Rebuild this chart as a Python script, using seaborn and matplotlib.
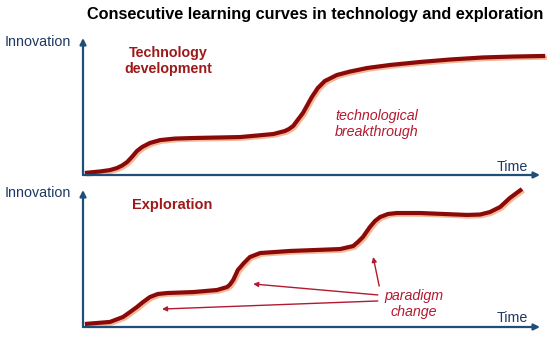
import matplotlib
matplotlib.use("Agg")
import matplotlib.pyplot as plt
import matplotlib.patheffects as pe
import seaborn as sns

# curve values (time 0-100, innovation 0-100)
time_tech = [0.4, 3.7, 5.8, 7.3, 8.4, 9.5, 10.5, 11.6, 12.7, 14.4, 16.6, 19.8, 23.7, 33.8,
             40.9, 43.4, 44.3, 45.2, 47.3, 49.2, 50.5, 52.0, 54.6, 57.4, 61.1, 66.0, 72.5,
             78.9, 86.0, 92.9, 99.4]
innov_tech = [1.5, 2.6, 3.6, 5.1, 6.9, 9.5, 13.1, 17.5, 20.4, 23.4, 25.5, 26.6, 27.0, 27.7,
              29.9, 32.1, 33.6, 35.8, 45.3, 56.9, 63.5, 68.6, 73.0, 75.5, 78.1, 80.3, 82.5,
              84.3, 85.8, 86.5, 86.9]

time_expl = [0.4, 5.8, 8.6, 10.1, 11.6, 12.9, 14.4, 16.1, 18.1, 23.7, 28.8, 31.0, 31.6,
             32.3, 32.7, 33.3, 34.6, 35.9, 38.1, 44.5, 55.3, 58.1, 59.1, 60.2, 61.7, 62.8,
             63.9, 65.6, 67.5, 72.5, 82.6, 85.4, 87.5, 89.7, 91.8, 94.4]
innov_expl = [2.2, 3.7, 7.3, 10.9, 14.6, 18.2, 21.9, 24.1, 24.8, 25.5, 27.0, 29.2, 31.0,
              34.3, 37.2, 41.6, 46.7, 51.1, 54.0, 55.5, 56.9, 59.1, 62.0, 65.7, 73.0, 77.4,
              80.3, 82.5, 83.2, 83.2, 81.8, 82.1, 83.9, 87.6, 94.2, 100.7]

title = "Consecutive learning curves in technology and exploration"
W, H = 550, 337
AXIS_BLUE = "#1f4e79"
TEXT_BLUE = "#1f3864"
CURVE_RED = "#8a0a0a"
LABEL_RED = "#9e1a1a"
NOTE_RED = "#b3192f"

sns.set_style("white")
plt.rcParams["font.family"] = ["Liberation Sans", "DejaVu Sans"]

fig = plt.figure(figsize=(W / 100, H / 100), dpi=100)


def px_axes(x0, y_top, x1, y_bot):
    return fig.add_axes([x0 / W, 1 - y_bot / H, (x1 - x0) / W, (y_bot - y_top) / H])


ax_top = px_axes(83, 38, 548, 175)
ax_bot = px_axes(83, 190, 548, 327)

shadow = [pe.SimpleLineShadow(offset=(1.2, -1.2), shadow_color="#f6b896", alpha=1),
          pe.Normal()]

for ax, xs, ys in [(ax_top, time_tech, innov_tech), (ax_bot, time_expl, innov_expl)]:
    sns.lineplot(x=xs, y=ys, ax=ax, color=CURVE_RED, linewidth=3.0, sort=False,
                 clip_on=False, solid_capstyle="butt", solid_joinstyle="round",
                 path_effects=shadow)
    ax.set_xlim(0, 100)
    ax.set_ylim(0, 100)
    ax.axis("off")
    # axes drawn as arrows
    arr = dict(arrowstyle="-|>", color=AXIS_BLUE, lw=1.6, mutation_scale=9,
               shrinkA=0, shrinkB=0)
    ax.annotate("", xy=(0, 1.0), xytext=(0, 0), xycoords="axes fraction",
                arrowprops=arr, annotation_clip=False)
    ax.annotate("", xy=(457 / 465, 0), xytext=(0, 0), xycoords="axes fraction",
                arrowprops=arr, annotation_clip=False)


def ftext(px, py, s, **kw):
    fig.text(px / W, 1 - py / H, s, **kw)


ftext(315, 14, title, ha="center", va="center", fontsize=11.7, fontweight="bold",
      color="black")

for yc in (42, 193):
    ftext(71, yc, "Innovation", ha="right", va="center", fontsize=10.3, color=TEXT_BLUE)
for yc in (167, 318):
    ftext(528, yc, "Time", ha="right", va="center", fontsize=10.3, color=TEXT_BLUE)

ftext(168, 61, "Technology\ndevelopment", ha="center", va="center", fontsize=10.3,
      fontweight="bold", color=LABEL_RED, linespacing=1.2)
ftext(172, 205, "Exploration", ha="center", va="center", fontsize=10.5,
      fontweight="bold", color=LABEL_RED)
ftext(335, 124, "technological\nbreakthrough", ha="left", va="center", fontsize=10.3,
      style="italic", color=NOTE_RED, linespacing=1.2)
ftext(414, 304, "paradigm\nchange", ha="center", va="center", fontsize=10.3,
      style="italic", color=NOTE_RED, linespacing=1.2)

note_arr = dict(arrowstyle="-|>", color=NOTE_RED, lw=1.0, mutation_scale=7,
                shrinkA=0, shrinkB=0)
for start, end in [((63.4, 19.0), (17.0, 13.1)),
                   ((63.4, 23.4), (36.6, 31.4)),
                   ((63.7, 29.9), (62.4, 51.1))]:
    ax_bot.annotate("", xy=end, xytext=start, arrowprops=note_arr)

fig.savefig("out.png", dpi=100)
